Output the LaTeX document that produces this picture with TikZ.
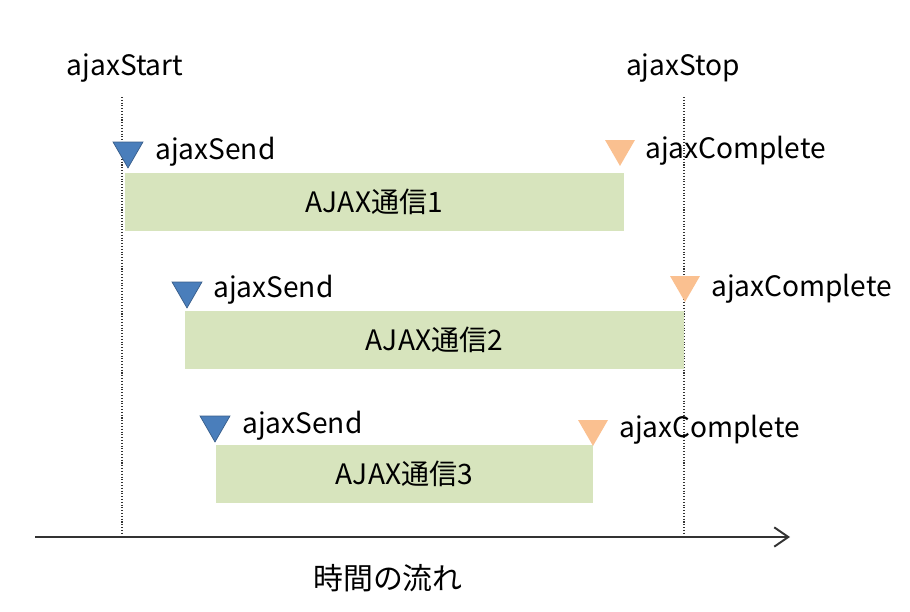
\documentclass[tikz,border=0pt]{standalone}
\usepackage{fontspec}
\setmainfont{Noto Sans CJK JP}
\usetikzlibrary{shapes.geometric,arrows.meta}
\definecolor{barfill}{HTML}{D7E4BD}
\definecolor{sendfill}{HTML}{4A7EBB}
\definecolor{sendline}{HTML}{385D8A}
\definecolor{donefill}{HTML}{FAC090}
\definecolor{axisgray}{HTML}{333333}
\tikzset{
  bar/.style={fill=barfill, inner sep=0pt, minimum height=1.16cm, font=\fontsize{16}{18}\selectfont},
  sendmark/.style={regular polygon, regular polygon sides=3, shape border rotate=180,
    fill=sendfill, draw=sendline, inner sep=0pt, minimum size=0.69cm},
  donemark/.style={regular polygon, regular polygon sides=3, shape border rotate=180,
    fill=donefill, inner sep=0pt, minimum size=0.69cm},
  evlabel/.style={anchor=west, inner sep=0pt, font=\fontsize{16}{18}\selectfont},
  guide/.style={densely dotted, line width=0.6pt, black!80},
}
\begin{document}
\begin{tikzpicture}[x=0.02cm, y=-0.02cm]
  \useasboundingbox (0,0) rectangle (910,612);
  % start / stop
  \node[font=\fontsize{16}{18}\selectfont] (start) at (125,68) {ajaxStart};
  \node[font=\fontsize{16}{18}\selectfont] (stop) at (683,68) {ajaxStop};
  \coordinate (starttop) at (122,97);
  \coordinate (startbot) at (122,535);
  \coordinate (stoptop) at (684,97);
  \coordinate (stopbot) at (684,535);
  \draw[guide] (starttop) -- (startbot);
  \draw[guide] (stoptop) -- (stopbot);
  % requests
  \node[bar, minimum width=9.98cm] (req1) at (374.5,202) {AJAX通信1};
  \node[bar, minimum width=9.98cm] (req2) at (434.5,340) {AJAX通信2};
  \node[bar, minimum width=7.54cm] (req3) at (404.5,474) {AJAX通信3};
  % ajaxSend
  \node[sendmark] (send1) at (128,150.7) {};
  \node[sendmark] (send2) at (187,290.7) {};
  \node[sendmark] (send3) at (215,424.7) {};
  \node[evlabel] (sendtext1) at (155,152) {ajaxSend};
  \node[evlabel] (sendtext2) at (213,290) {ajaxSend};
  \node[evlabel] (sendtext3) at (242,426) {ajaxSend};
  % ajaxComplete
  \node[donemark] (done1) at (620,148.7) {};
  \node[donemark] (done2) at (685,284.7) {};
  \node[donemark] (done3) at (593,428.7) {};
  \node[evlabel] (donetext1) at (645,151) {ajaxComplete};
  \node[evlabel] (donetext2) at (711,289) {ajaxComplete};
  \node[evlabel] (donetext3) at (619,430) {ajaxComplete};
  % time axis
  \coordinate (axisleft) at (35,537);
  \coordinate (axisright) at (790,537);
  \draw[axisgray, line width=1.1pt, -{Straight Barb[length=8pt, width=11pt]}] (axisleft) -- (axisright);
  \node[font=\fontsize{17}{19}\selectfont] (timeflow) at (388,578) {時間の流れ};
\end{tikzpicture}
\end{document}
